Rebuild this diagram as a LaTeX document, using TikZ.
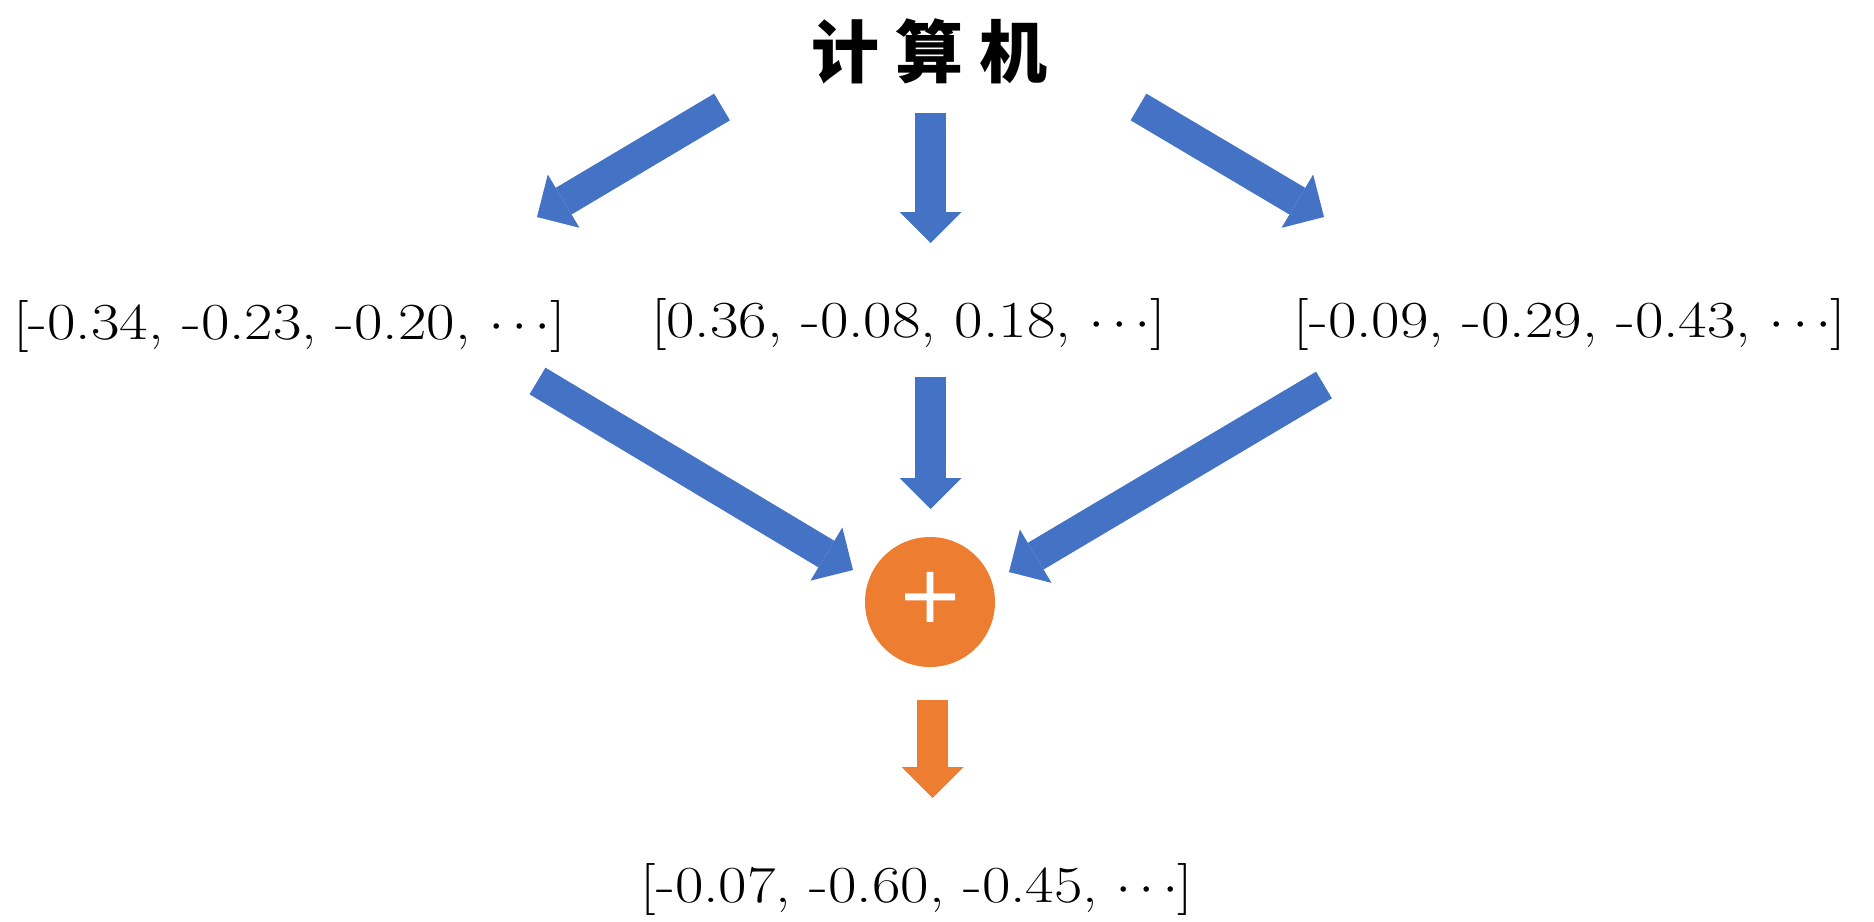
\RequirePackage{fix-cm}
\documentclass[tikz,border=0pt]{standalone}
\usepackage{fontspec}
\newfontfamily\vecfont{Latin Modern Roman}[FakeStretch=1.19]
\newfontfamily\cjk{Noto Sans CJK SC}
\newfontfamily\plusfont{Liberation Serif}[FakeBold=1.6]
\usetikzlibrary{arrows.meta}
\definecolor{oblue}{HTML}{4472C4}
\definecolor{oorange}{HTML}{ED7D31}
\tikzset{
  vec/.style={inner sep=0pt, anchor=base, font=\vecfont\fontsize{52}{60}\selectfont},
  blockarrow/.style={line width=31pt, line cap=butt,
    -{Triangle[length=31pt,width=62pt,line width=0pt]}},
  bluearrow/.style={blockarrow, draw=oblue},
  orangearrow/.style={blockarrow, draw=oorange},
  sumnode/.style={circle, fill=oorange, minimum size=130pt, inner sep=0pt,
    text=white, font=\plusfont\fontsize{104}{104}\selectfont},
}
\begin{document}
\begin{tikzpicture}[x=1pt,y=-1pt]
\useasboundingbox (0,0) rectangle (1874,921);
\fill[white] (0,0) rectangle (1874,921);
% nodes
\node[inner sep=0pt, font=\cjk\bfseries\fontsize{68}{70}\selectfont] (title) at (929.5,51) {计 算 机};
\node[vec] (v1) at (289.5,339) {[-0.34, -0.23, -0.20, $\cdots$]};
\node[vec] (v2) at (908.5,337) {[0.36, -0.08, 0.18, $\cdots$]};
\node[vec] (v3) at (1570,337) {[-0.09, -0.29, -0.43, $\cdots$]};
\node[sumnode] (sum) at (930,602) {+};
\node[vec] (out) at (917,902) {[-0.07, -0.60, -0.45, $\cdots$]};
% arrow ends
\coordinate (a1s) at (722,107);   \coordinate (a1e) at (537,217);
\coordinate (a2s) at (930.5,113); \coordinate (a2e) at (930.5,243);
\coordinate (a3s) at (1138.5,107);\coordinate (a3e) at (1324,217);
\coordinate (b1s) at (537.5,381); \coordinate (b1e) at (853,570);
\coordinate (b2s) at (930.5,377); \coordinate (b2e) at (930.5,509);
\coordinate (b3s) at (1324,385);  \coordinate (b3e) at (1009,572);
\coordinate (cs) at (932.5,700);  \coordinate (ce) at (932.5,798);
% arrows
\draw[bluearrow] (a1s) -- (a1e);
\draw[bluearrow] (a2s) -- (a2e);
\draw[bluearrow] (a3s) -- (a3e);
\draw[bluearrow] (b1s) -- (b1e);
\draw[bluearrow] (b2s) -- (b2e);
\draw[bluearrow] (b3s) -- (b3e);
\draw[orangearrow] (cs) -- (ce);
\end{tikzpicture}
\end{document}
